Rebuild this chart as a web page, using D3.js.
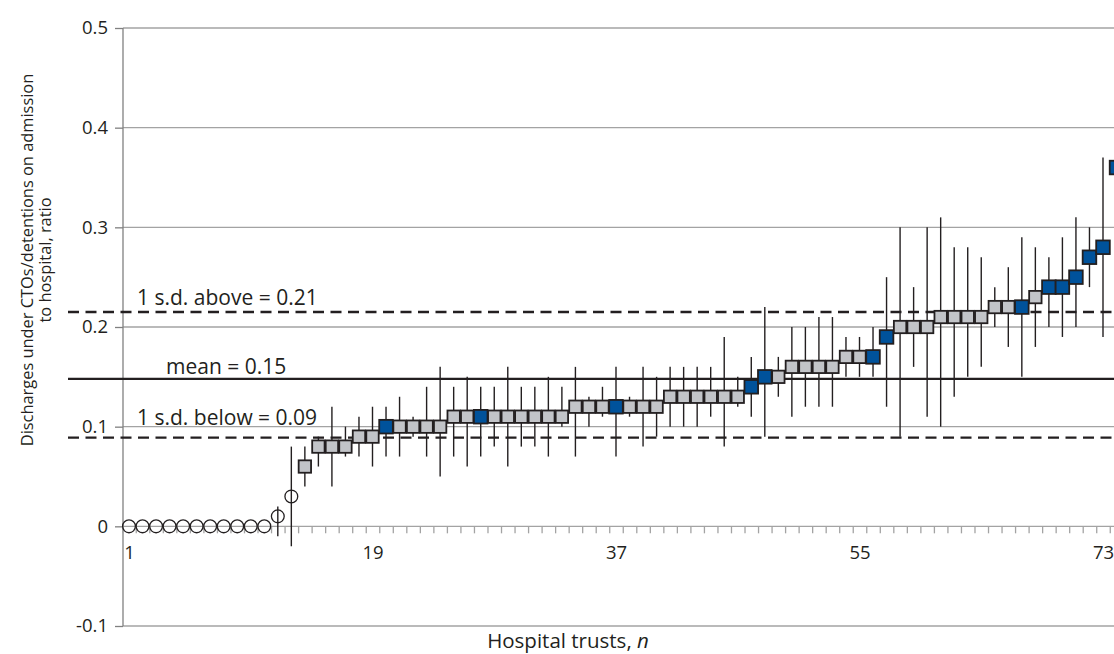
<!DOCTYPE html>
<html>
<head>
<meta charset="utf-8">
<script src="https://cdn.jsdelivr.net/npm/d3@7"></script>
<style>
  body { margin: 0; background: #fff; }
  svg text { font-family: "Open Sans", "DejaVu Sans", sans-serif; fill: #231f20; }
</style>
</head>
<body>
<div id="chart"></div>
<script>
// Data (the 74th trust sits on the right edge)
const trusts = d3.range(1, 75);
const ratio = [0, 0, 0, 0, 0, 0, 0, 0, 0, 0, 0, 0.01, 0.03, 0.06, 0.08, 0.08, 0.08, 0.09, 0.09, 0.10,
  0.10, 0.10, 0.10, 0.10, 0.11, 0.11, 0.11, 0.11, 0.11, 0.11, 0.11, 0.11, 0.11, 0.12, 0.12, 0.12,
  0.12, 0.12, 0.12, 0.12, 0.13, 0.13, 0.13, 0.13, 0.13, 0.13, 0.14, 0.15, 0.15, 0.16, 0.16, 0.16,
  0.16, 0.17, 0.17, 0.17, 0.19, 0.20, 0.20, 0.20, 0.21, 0.21, 0.21, 0.21, 0.22, 0.22, 0.22, 0.23,
  0.24, 0.24, 0.25, 0.27, 0.28, 0.36];
const lower = [null, null, null, null, null, null, null, null, null, null, null, -0.01, -0.02, 0.04, 0.06,
  0.04, 0.07, 0.07, 0.06, 0.07, 0.07, 0.09, 0.07, 0.05, 0.07, 0.06, 0.07, 0.08, 0.06, 0.08, 0.08,
  0.07, 0.10, 0.07, 0.10, 0.11, 0.07, 0.11, 0.08, 0.09, 0.10, 0.10, 0.10, 0.11, 0.08, 0.12, 0.11,
  0.09, 0.13, 0.11, 0.12, 0.12, 0.12, 0.15, 0.15, 0.15, 0.12, 0.09, 0.16, 0.11, 0.10, 0.13, 0.15,
  0.16, 0.20, 0.18, 0.15, 0.18, 0.20, 0.19, 0.20, 0.24, 0.19, null];
const upper = [null, null, null, null, null, null, null, null, null, null, null, 0.02, 0.08, 0.08, 0.09,
  0.12, 0.10, 0.11, 0.12, 0.12, 0.13, 0.11, 0.14, 0.16, 0.14, 0.15, 0.14, 0.14, 0.16, 0.14, 0.14,
  0.15, 0.14, 0.16, 0.13, 0.14, 0.16, 0.13, 0.16, 0.15, 0.16, 0.16, 0.16, 0.16, 0.19, 0.15, 0.17,
  0.22, 0.17, 0.20, 0.20, 0.21, 0.21, 0.19, 0.19, 0.20, 0.25, 0.30, 0.24, 0.30, 0.31, 0.28, 0.28,
  0.27, 0.24, 0.26, 0.29, 0.28, 0.27, 0.29, 0.31, 0.30, 0.37, null];
// trusts drawn as open circles / highlighted blue squares, the rest are grey squares
const circleTrusts = d3.range(1, 14);
const blueTrusts = [20, 27, 37, 47, 48, 56, 57, 67, 69, 70, 71, 72, 73, 74];

const yTicks = [-0.1, 0, 0.1, 0.2, 0.3, 0.4, 0.5];
const xTickLabels = [1, 19, 37, 55, 73];
const refValues = [0.215, 0.148, 0.089];
const refLabels = ["1 s.d. above = 0.21", "mean = 0.15", "1 s.d. below = 0.09"];

const data = trusts.map((t, i) => ({
  t, v: ratio[i], lo: lower[i], hi: upper[i],
  m: circleTrusts.includes(t) ? "o" : blueTrusts.includes(t) ? "b" : "g"
}));

/************************************
 * Layout
 ************************************/
const w = 1114, h = 654;
const left = 123, right = 1114;

const x = d3.scaleLinear().domain([1, 73]).range([129, 1103]);
const y = d3.scaleLinear().domain([-0.1, 0.5]).range([626, 28]);

const svg = d3.select("#chart").append("svg")
  .attr("width", w)
  .attr("height", h);

// Gridlines (incl. zero line and bottom line)
svg.append("g")
  .selectAll("line")
  .data(yTicks)
  .join("line")
  .attr("x1", left)
  .attr("x2", right)
  .attr("y1", d => y(d))
  .attr("y2", d => y(d))
  .attr("stroke", "#a3a3a3")
  .attr("stroke-width", 1.3);

// Y axis
const yAxis = d3.axisLeft(y)
  .tickValues(yTicks)
  .tickSize(8)
  .tickPadding(7)
  .tickFormat(d => d === 0 ? "0" : d.toFixed(1));

const gy = svg.append("g")
  .attr("transform", "translate(" + left + ",0)")
  .call(yAxis);
gy.select(".domain").remove();
gy.selectAll(".tick line").attr("stroke", "#808080").attr("stroke-width", 1.3);
gy.selectAll(".tick text").attr("font-size", 18.5).attr("fill", "#333");

svg.append("line")
  .attr("x1", left).attr("x2", left)
  .attr("y1", y(0.5)).attr("y2", y(-0.1))
  .attr("stroke", "#808080")
  .attr("stroke-width", 1.3);

// Minor ticks on the zero line, between trusts
const minorAxis = d3.axisBottom(x)
  .tickValues(d3.range(0.5, 74, 1))
  .tickSize(7)
  .tickFormat("");
const gm = svg.append("g")
  .attr("transform", "translate(0," + y(0) + ")")
  .call(minorAxis);
gm.select(".domain").remove();
gm.selectAll(".tick line").attr("stroke", "#a3a3a3").attr("stroke-width", 1.3);

// Trust numbers
const labelAxis = d3.axisBottom(x)
  .tickValues(xTickLabels)
  .tickSize(0)
  .tickPadding(20);
const gl = svg.append("g")
  .attr("transform", "translate(0," + y(0) + ")")
  .call(labelAxis);
gl.select(".domain").remove();
gl.selectAll(".tick text").attr("font-size", 18.5).attr("fill", "#333");

/************************************
 * Mean and s.d. lines
 ************************************/
svg.append("g")
  .selectAll("line")
  .data(refValues)
  .join("line")
  .attr("x1", 68)
  .attr("x2", right)
  .attr("y1", d => y(d))
  .attr("y2", d => y(d))
  .attr("stroke", "#231f20")
  .attr("stroke-width", (d, i) => i === 1 ? 2.2 : 2.4)
  .attr("stroke-dasharray", (d, i) => i === 1 ? null : "11,6.5");

const labelDy = [-7, -4.5, -13];
svg.append("g")
  .selectAll("text")
  .data(refValues)
  .join("text")
  .attr("x", (d, i) => i === 1 ? 166 : 137)
  .attr("y", (d, i) => y(d) + labelDy[i])
  .attr("font-size", 21)
  .text((d, i) => refLabels[i]);

/************************************
 * Error bars and markers
 ************************************/
svg.append("g")
  .selectAll("line")
  .data(data.filter(d => d.lo !== null))
  .join("line")
  .attr("x1", d => x(d.t))
  .attr("x2", d => x(d.t))
  .attr("y1", d => y(d.lo))
  .attr("y2", d => y(d.hi))
  .attr("stroke", "#231f20")
  .attr("stroke-width", 1.4);

svg.append("g")
  .selectAll("circle")
  .data(data.filter(d => d.m === "o"))
  .join("circle")
  .attr("cx", d => x(d.t))
  .attr("cy", d => y(d.v))
  .attr("r", 6.4)
  .attr("fill", "none")
  .attr("stroke", "#231f20")
  .attr("stroke-width", 1.3);

svg.append("g")
  .selectAll("rect")
  .data(data.filter(d => d.m !== "o"))
  .join("rect")
  .attr("x", d => x(d.t) - (d.m === "b" ? 6.8 : 6.2))
  .attr("y", d => y(d.v) - (d.m === "b" ? 6.8 : 6.2))
  .attr("width", d => d.m === "b" ? 13.6 : 12.4)
  .attr("height", d => d.m === "b" ? 13.6 : 12.4)
  .attr("fill", d => d.m === "b" ? "#00529b" : "#c2c4c8")
  .attr("stroke", "#231f20")
  .attr("stroke-width", 1.8);

/************************************
 * Axis titles
 ************************************/
svg.append("text")
  .attr("x", 568)
  .attr("y", 648)
  .attr("text-anchor", "middle")
  .attr("font-size", 20.5)
  .html('Hospital trusts, <tspan font-style="italic">n</tspan>');

svg.append("text")
  .attr("transform", "translate(33,260) rotate(-90)")
  .attr("text-anchor", "middle")
  .attr("font-size", 16.4)
  .selectAll("tspan")
  .data(["Discharges under CTOs/detentions on admission", "to hospital, ratio"])
  .join("tspan")
  .attr("x", 0)
  .attr("dy", (d, i) => i === 0 ? 0 : 18)
  .text(d => d);
</script>
</body>
</html>
